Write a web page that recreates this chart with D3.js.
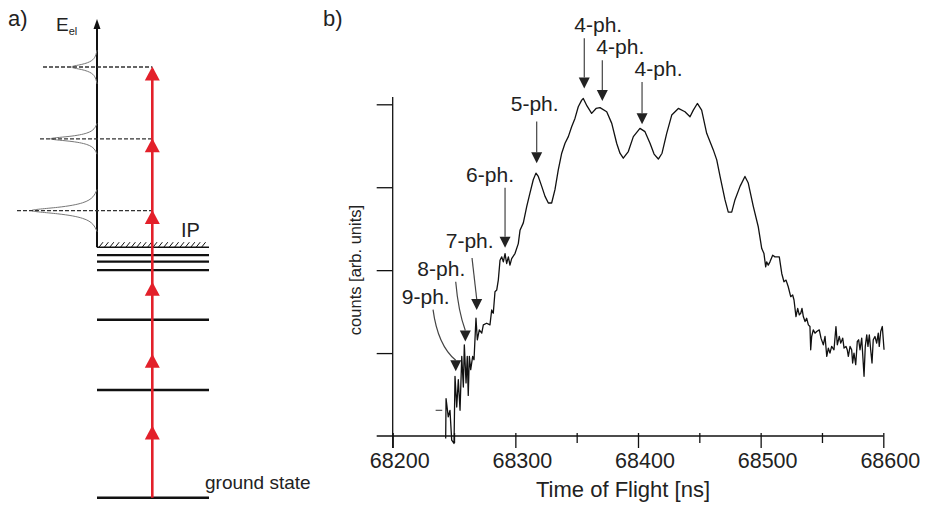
<!DOCTYPE html>
<html>
<head>
<meta charset="utf-8">
<script src="https://cdn.jsdelivr.net/npm/d3@7/dist/d3.min.js"></script>
<style>
  body { margin: 0; background: #fff; }
  svg text { font-family: "Liberation Sans", Arial, sans-serif; fill: #222; }
</style>
</head>
<body>
<svg id="canvas" width="925" height="507"></svg>
<script>
// ---- panel b data: time of flight spectrum ----
const tofNs = [
    68243.2, 68243.5, 68245.3, 68246.7, 68248.1, 68250.0, 68250.8, 68252.2, 68253.5, 68254.9,
    68256.3, 68257.6, 68258.4, 68259.8, 68260.8, 68261.6, 68262.5, 68263.6, 68265.2, 68266.3,
    68267.9, 68269.0, 68270.6, 68272.6, 68273.9, 68276.6, 68279.3, 68280.7, 68282.0, 68283.4,
    68284.8, 68286.1, 68287.5, 68288.9, 68290.2, 68291.6, 68292.9, 68294.3, 68295.6, 68297.0,
    68299.7, 68302.4, 68303.8, 68306.5, 68309.3, 68311.9, 68314.6, 68316.8, 68318.7, 68321.5,
    68324.2, 68326.9, 68329.6, 68332.3, 68335.0, 68337.8, 68340.5, 68343.2, 68345.9, 68348.6,
    68351.3, 68354.1, 68355.4, 68358.4, 68362.2, 68365.8, 68369.0, 68374.5, 68378.6, 68382.6,
    68385.3, 68388.0, 68392.1, 68396.2, 68401.6, 68405.7, 68409.8, 68413.1, 68416.6, 68419.6,
    68423.4, 68427.5, 68432.9, 68438.3, 68442.4, 68445.1, 68448.4, 68451.9, 68456.0, 68461.4,
    68464.2, 68466.9, 68470.9, 68473.6, 68476.4, 68479.1, 68483.2, 68487.2, 68489.9, 68494.0,
    68498.1, 68500.9, 68502.7, 68504.1, 68504.9, 68506.2, 68507.6, 68509.8, 68511.7, 68515.2,
    68517.2, 68519.0, 68520.7, 68522.5, 68524.5, 68526.1, 68527.2, 68528.8, 68530.2, 68531.5,
    68532.7, 68533.7, 68534.8, 68536.2, 68537.5, 68538.9, 68540.2, 68540.8, 68541.6, 68542.9,
    68544.3, 68545.7, 68547.8, 68549.2, 68551.1, 68552.5, 68553.9, 68555.2, 68556.5, 68557.9,
    68559.8, 68561.4, 68562.5, 68564.1, 68565.3, 68566.9, 68568.0, 68569.6, 68570.6, 68571.5,
    68572.9, 68574.2, 68575.0, 68576.1, 68577.5, 68578.8, 68579.9, 68581.0, 68582.4, 68584.3,
    68585.3, 68586.5, 68587.5, 68588.6, 68589.7, 68590.8, 68591.8, 68593.2, 68594.6, 68595.9,
    68596.7, 68597.9, 68599.2, 68600.6
];
const counts = [
    -0.03, 0.45, 0.23, 0.31, -0.05, -0.09, 0.72, 0.35, 0.68, 0.31,
    0.96, 0.59, 1.10, 0.64, 0.96, 0.49, 0.96, 0.80, 0.96, 0.92,
    1.42, 1.16, 1.28, 1.24, 1.34, 1.36, 1.34, 1.52, 1.48, 1.74,
    1.76, 1.88, 2.12, 2.16, 2.10, 2.20, 2.08, 2.16, 2.06, 2.14,
    2.20, 2.32, 2.48, 2.57, 2.77, 2.93, 3.09, 3.17, 3.13, 3.01,
    2.89, 2.81, 2.81, 2.97, 3.21, 3.41, 3.53, 3.61, 3.73, 3.83,
    3.97, 4.05, 4.07, 3.98, 3.89, 3.95, 3.96, 3.91, 3.77, 3.53,
    3.41, 3.35, 3.43, 3.61, 3.71, 3.67, 3.53, 3.40, 3.34, 3.41,
    3.65, 3.87, 3.95, 3.91, 3.85, 3.93, 4.01, 3.93, 3.65, 3.45,
    3.33, 3.13, 2.85, 2.70, 2.70, 2.85, 3.01, 3.13, 3.05, 2.77,
    2.52, 2.26, 2.20, 2.04, 2.10, 2.06, 2.10, 2.18, 2.16, 2.16,
    1.96, 1.86, 1.88, 1.80, 1.68, 1.70, 1.64, 1.44, 1.54, 1.46,
    1.48, 1.54, 1.44, 1.38, 1.42, 1.34, 1.32, 1.04, 1.20, 1.28,
    1.24, 1.26, 1.28, 1.18, 1.10, 1.20, 0.96, 1.06, 1.00, 1.08,
    1.04, 1.32, 1.10, 1.20, 1.12, 1.18, 1.06, 1.08, 1.04, 0.96,
    1.08, 1.04, 0.88, 1.00, 0.86, 1.14, 1.16, 1.04, 1.18, 0.72,
    1.08, 1.22, 1.08, 1.22, 1.04, 0.88, 1.16, 1.20, 1.12, 1.24,
    1.08, 1.26, 1.32, 1.04
];
// small stray mark left of the spectrum
const strayTof = [68235.0, 68240.4];
const strayCounts = [0.31, 0.31];

const xTicks = [68200, 68300, 68400, 68500, 68600];
const xMinorTicks = [68250, 68350, 68450, 68550];
const yTicks = [1, 2, 3, 4];

// photon-order annotations: label and arrow tip (tof, counts)
const peakLabels = ["9-ph.", "8-ph.", "7-ph.", "6-ph.", "5-ph.", "4-ph.", "4-ph.", "4-ph."];
const peakTof = [68251.4, 68259.2, 68268.5, 68291.6, 68317.4, 68356.2, 68370.9, 68403.3];
const peakCounts = [0.78, 1.14, 1.52, 2.27, 3.29, 4.19, 4.04, 3.76];

// ---- panel a data: level scheme (energy in photon units) ----
const boundLevels = [0, 1.5, 2.48, 3.17, 3.29, 3.38];
const ipLevel = 3.49;
const photonSteps = [1, 2, 3, 4, 5, 6];
const atiLevels = [4, 5, 6];
const atiHeight = [1, 0.71, 0.39];
const profileOffset = [-14, -9, -5, -2, 0, 2, 5, 9, 14];
const profileValue = [0, 0.04, 0.15, 0.45, 1, 0.45, 0.15, 0.04, 0];

const canvas = d3.select("#canvas");
const ink = "#111";
const red = "#e3202a";

// ================= panel a =================
const eY = d3.scaleLinear().domain([0, 6]).range([497.7, 67]);
const axisX = 97, levelEnd = 209, photonX = 152.3;
const dashStart = [17, 40, 43];

const pa = canvas.append("g");

pa.append("text").attr("x", 8).attr("y", 26).attr("font-size", 22).text("a)");
const eLabel = pa.append("text").attr("x", 56).attr("y", 31).attr("font-size", 19);
eLabel.append("tspan").text("E");
eLabel.append("tspan").attr("font-size", 11).attr("dy", 4).text("el");

// energy axis with arrow head
pa.append("line")
    .attr("x1", axisX).attr("x2", axisX)
    .attr("y1", eY(ipLevel)).attr("y2", 26)
    .attr("stroke", ink).attr("stroke-width", 2);
pa.append("path")
    .attr("d", `M${axisX},19 L${axisX - 3.5},29 L${axisX + 3.5},29 Z`)
    .attr("fill", ink);

// ATI peak profiles (thin grey) to the left of the axis
const profileLine = d3.line().curve(d3.curveBasis);
atiLevels.forEach((lv, i) => {
    const w = [1.5, 1.1, 1.2][i];
    const pts = profileOffset.map((o, k) => [
        axisX - 80 * atiHeight[i] * profileValue[k],
        eY(lv) + o * w
    ]);
    pa.append("path")
        .attr("d", profileLine(pts))
        .attr("fill", "none")
        .attr("stroke", "#777")
        .attr("stroke-width", 1);
});

// dashed ATI levels
atiLevels.forEach((lv, i) => {
    pa.append("line")
        .attr("x1", dashStart[i]).attr("x2", photonX)
        .attr("y1", eY(lv)).attr("y2", eY(lv))
        .attr("stroke", "#333")
        .attr("stroke-width", 1.3)
        .attr("stroke-dasharray", "4,2");
});

// ionisation potential with hatching
pa.append("line")
    .attr("x1", axisX).attr("x2", levelEnd)
    .attr("y1", eY(ipLevel)).attr("y2", eY(ipLevel))
    .attr("stroke", ink).attr("stroke-width", 1.6);
pa.selectAll(".hatch")
    .data(d3.range(axisX + 2, levelEnd - 2, 5.4))
    .enter()
    .append("line")
    .attr("class", "hatch")
    .attr("x1", (d) => d).attr("x2", (d) => d + 4)
    .attr("y1", eY(ipLevel)).attr("y2", eY(ipLevel) - 5)
    .attr("stroke", ink).attr("stroke-width", 1);
pa.append("text").attr("x", 181).attr("y", 237).attr("font-size", 20).text("IP");

// bound levels
pa.selectAll(".level")
    .data(boundLevels)
    .enter()
    .append("line")
    .attr("class", "level")
    .attr("x1", axisX).attr("x2", levelEnd)
    .attr("y1", (d) => eY(d)).attr("y2", (d) => eY(d))
    .attr("stroke", ink)
    .attr("stroke-width", (d, i) => (i >= 3 ? 2.2 : 2.6));
pa.append("text").attr("x", 205).attr("y", 489).attr("font-size", 19).text("ground state");

// photon ladder
pa.append("line")
    .attr("x1", photonX).attr("x2", photonX)
    .attr("y1", eY(0)).attr("y2", eY(6) + 2)
    .attr("stroke", red).attr("stroke-width", 2.6);
pa.selectAll(".photon")
    .data(photonSteps)
    .enter()
    .append("path")
    .attr("class", "photon")
    .attr("d", (d) => {
        const t = eY(d) - 0.5;
        return `M${photonX},${t} L${photonX - 7.5},${t + 14} L${photonX + 7.5},${t + 14} Z`;
    })
    .attr("fill", red);

// ================= panel b =================
const x = d3.scaleLinear().domain([68200, 68600]).range([392.7, 883.3]);
const y = d3.scaleLinear().domain([0, 4.088]).range([436, 97]);

const pb = canvas.append("g");
pb.append("text").attr("x", 323).attr("y", 26).attr("font-size", 22).text("b)");

// axes lines
pb.append("line")
    .attr("x1", 376.7).attr("x2", x(68600))
    .attr("y1", y(0)).attr("y2", y(0))
    .attr("stroke", ink).attr("stroke-width", 1.3);
pb.append("line")
    .attr("x1", x(68200)).attr("x2", x(68200))
    .attr("y1", y(0) + 12).attr("y2", y(4.088))
    .attr("stroke", ink).attr("stroke-width", 1.3);

const xAxis = pb.append("g")
    .attr("transform", `translate(0,${y(0)})`)
    .call(d3.axisBottom(x).tickValues(xTicks).tickSize(12).tickFormat(""));
xAxis.select(".domain").remove();
xAxis.selectAll(".tick line").attr("y1", -3).attr("stroke", ink).attr("stroke-width", 1.3);

const xMinor = pb.append("g")
    .attr("transform", `translate(0,${y(0)})`)
    .call(d3.axisBottom(x).tickValues(xMinorTicks).tickSize(7).tickFormat(""));
xMinor.select(".domain").remove();
xMinor.selectAll(".tick line").attr("y1", -3).attr("stroke", ink).attr("stroke-width", 1.3);

pb.selectAll(".xlab")
    .data(xTicks)
    .enter()
    .append("text")
    .attr("class", "xlab")
    .attr("x", (d) => x(d) + 7)
    .attr("y", 468)
    .attr("text-anchor", "middle")
    .attr("font-size", 21.5)
    .text((d) => d);

const yAxis = pb.append("g")
    .attr("transform", `translate(${x(68200)},0)`)
    .call(d3.axisLeft(y).tickValues(yTicks).tickSize(16).tickFormat(""));
yAxis.select(".domain").remove();
yAxis.selectAll(".tick line").attr("stroke", ink).attr("stroke-width", 1.3);

pb.append("text")
    .attr("x", 623).attr("y", 497)
    .attr("text-anchor", "middle")
    .attr("font-size", 22)
    .text("Time of Flight [ns]");
pb.append("text")
    .attr("transform", "translate(361,270) rotate(-90)")
    .attr("text-anchor", "middle")
    .attr("font-size", 16.5)
    .text("counts [arb. units]");

// spectrum
const line = d3.line().x((d) => x(d[0])).y((d) => y(d[1]));
pb.append("path")
    .attr("d", line(d3.zip(tofNs, counts)))
    .attr("fill", "none")
    .attr("stroke", ink)
    .attr("stroke-width", 1.3)
    .attr("stroke-linejoin", "round");
pb.append("path")
    .attr("d", line(d3.zip(strayTof, strayCounts)))
    .attr("stroke", "#333")
    .attr("stroke-width", 1);

// annotation layout: label offset and arrow start, relative to the tip (px)
const labelDx = [-30, -24, -7, -15, -2, 14, 18, 16.5];
const labelDy = [-67, -65, -62, -66, -52, -57, -47, -48];
const startDx = [-22.7, -9.6, -4.7, 0, 0, 0, 0, 0];
const startDy = [-61.7, -59.7, -52, -60, -41.6, -50.3, -40.7, -42.3];
const bendDx = [-18, -7, 0, 0, 0, 0, 0, 0];
const bendDy = [-26, -30, 0, 0, 0, 0, 0, 0];

peakLabels.forEach((lab, i) => {
    const tx = x(peakTof[i]);
    const ty = y(peakCounts[i]);
    const by = ty - 11;
    const sx = tx + startDx[i], sy = ty + startDy[i];
    let d;
    if (bendDx[i] !== 0) {
        d = `M${sx},${sy} Q${tx + bendDx[i]},${ty + bendDy[i]} ${tx},${by}`;
    } else {
        d = `M${sx},${sy} L${tx},${by}`;
    }
    pb.append("path")
        .attr("d", d)
        .attr("fill", "none")
        .attr("stroke", "#444")
        .attr("stroke-width", 1.2);
    pb.append("path")
        .attr("d", `M${tx},${ty} L${tx - 5.5},${by} L${tx + 5.5},${by} Z`)
        .attr("fill", "#222");
    pb.append("text")
        .attr("x", tx + labelDx[i])
        .attr("y", ty + labelDy[i])
        .attr("text-anchor", "middle")
        .attr("font-size", 21)
        .text(lab);
});
</script>
</body>
</html>
